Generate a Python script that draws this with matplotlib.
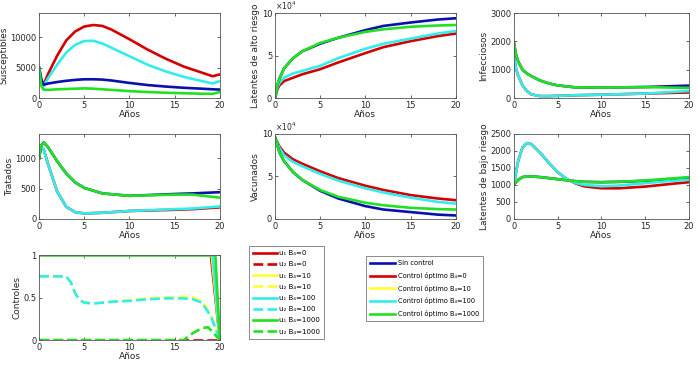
import matplotlib
matplotlib.use("Agg")
import matplotlib.pyplot as plt
from matplotlib.lines import Line2D

# colours (MATLAB-like)
C_BLUE = "#0a10b0"
C_RED = "#d40000"
C_YEL = "#ffff33"
C_CYA = "#33ecec"
C_GRN = "#22e022"

# --- Susceptibles ---
t_s = [0, 0.25, 0.5, 1, 2, 3, 4, 5, 6, 7, 8, 9, 10, 12, 14, 16, 18, 19.2, 20]
s_blue = [5000, 3000, 2200, 2400, 2650, 2850, 3000, 3100, 3100, 3050, 2900, 2700, 2500, 2150, 1900, 1700, 1550, 1450, 1400]
s_red = [5000, 3000, 2200, 4000, 7000, 9500, 11000, 11800, 12050, 11900, 11300, 10500, 9700, 8000, 6500, 5200, 4200, 3600, 3900]
s_cya = [5000, 3000, 2000, 3300, 5500, 7500, 8800, 9400, 9450, 9000, 8300, 7600, 6900, 5500, 4400, 3500, 2800, 2400, 2800]
s_grn = [5000, 2000, 1400, 1350, 1450, 1500, 1550, 1600, 1550, 1450, 1350, 1250, 1150, 1000, 880, 800, 720, 700, 1000]

# --- Latentes de alto riesgo (x1e4) ---
t_la = [0, 0.25, 0.5, 1, 2, 3, 5, 7, 10, 12, 15, 18, 20]
la_blue = [0, 1.5, 2.3, 3.5, 4.7, 5.5, 6.4, 7.1, 8.0, 8.5, 8.9, 9.25, 9.4]
la_grn = [0, 1.5, 2.3, 3.5, 4.7, 5.5, 6.5, 7.1, 7.8, 8.1, 8.4, 8.55, 8.6]
la_cya = [0, 1.2, 1.8, 2.4, 2.9, 3.2, 3.8, 4.7, 5.8, 6.4, 7.0, 7.6, 7.9]
la_red = [0, 1.0, 1.5, 2.0, 2.4, 2.8, 3.4, 4.2, 5.3, 6.0, 6.7, 7.3, 7.6]

# --- Infecciosos ---
t_i = [0, 0.25, 0.5, 1, 1.5, 2, 3, 4, 5, 7, 10, 15, 20]
i_blue = [2000, 1550, 1300, 1000, 870, 780, 620, 520, 450, 380, 370, 390, 440]
i_grn = [2000, 1550, 1300, 1000, 870, 780, 620, 520, 450, 380, 370, 390, 360]
i_cya = [1500, 1050, 800, 450, 250, 130, 70, 70, 80, 100, 120, 160, 250]
i_red = [1500, 1050, 800, 450, 250, 130, 70, 70, 80, 100, 120, 160, 200]

# --- Tratados ---
t_t = [0, 0.2, 0.5, 1, 2, 3, 4, 5, 7, 10, 15, 17, 20]
t_blue = [1000, 1200, 1260, 1180, 950, 750, 600, 510, 420, 380, 410, 420, 440]
t_grn = [1000, 1200, 1260, 1180, 950, 750, 600, 510, 420, 380, 400, 400, 350]
t_cya = [1000, 1200, 1150, 900, 450, 200, 110, 90, 100, 130, 160, 170, 205]
t_red = [1000, 1200, 1150, 900, 450, 200, 110, 90, 100, 130, 150, 160, 190]

# --- Vacunados (x1e4) ---
t_v = [0, 0.5, 1, 2, 3, 5, 7, 10, 12, 15, 18, 20]
v_red = [9.6, 8.5, 7.8, 7.0, 6.5, 5.6, 4.8, 3.9, 3.4, 2.8, 2.4, 2.2]
v_cya = [9.6, 8.3, 7.5, 6.7, 6.2, 5.3, 4.5, 3.6, 3.1, 2.5, 2.0, 1.8]
v_grn = [9.6, 7.8, 6.8, 5.5, 4.6, 3.4, 2.6, 1.9, 1.6, 1.3, 1.15, 1.1]
v_blue = [9.6, 7.8, 6.8, 5.5, 4.6, 3.3, 2.4, 1.5, 1.1, 0.8, 0.5, 0.4]

# --- Latentes de bajo riesgo ---
t_lb = [0, 0.5, 1, 1.5, 2, 3, 4, 5, 6, 7, 8, 10, 12, 15, 18, 20]
lb_red = [1000, 1700, 2100, 2230, 2200, 1950, 1650, 1380, 1180, 1050, 960, 900, 900, 950, 1030, 1080]
lb_cya = [1000, 1700, 2100, 2230, 2200, 1950, 1650, 1380, 1180, 1060, 1000, 960, 980, 1050, 1120, 1150]
lb_blue = [1000, 1150, 1230, 1250, 1250, 1230, 1200, 1170, 1140, 1110, 1090, 1080, 1090, 1120, 1170, 1180]
lb_grn = [1000, 1150, 1230, 1250, 1250, 1230, 1200, 1170, 1140, 1110, 1090, 1080, 1090, 1130, 1190, 1230]

# --- Controles ---
t_u1_red = [0, 19.0, 20]
t_u1_yel = [0, 19.1, 20]
t_u1_cya = [0, 19.2, 20]
t_u1_grn = [0, 19.5, 20]
u1_vals = [1, 1, 0]
t_u2_red = [0, 20]
u2_red = [0, 0]
t_u2 = [0, 3, 3.5, 4, 4.5, 5, 6, 8, 10, 12, 14, 16, 17, 18, 19, 20]
u2_yel = [0.75, 0.75, 0.68, 0.55, 0.47, 0.44, 0.43, 0.45, 0.47, 0.49, 0.5, 0.51, 0.5, 0.46, 0.3, 0]
u2_cya = [0.75, 0.75, 0.68, 0.55, 0.47, 0.44, 0.43, 0.45, 0.46, 0.48, 0.49, 0.49, 0.48, 0.44, 0.28, 0]
t_u2g = [0, 16, 17, 18, 18.7, 19.3, 20]
u2_grn = [0, 0, 0.08, 0.14, 0.15, 0.08, 0]

LW = 1.9
FS = 6
H = 0.232


def style(ax, ylabel, ylim, yticks, e4=False):
    ax.set_xlim(0, 20)
    ax.set_ylim(*ylim)
    ax.set_xticks([0, 5, 10, 15, 20])
    ax.set_yticks(yticks)
    ax.tick_params(direction="in", length=2, width=0.5, labelsize=FS, colors="#262626",
                   top=True, right=True, pad=2)
    for sp in ax.spines.values():
        sp.set_color("#555555")
        sp.set_linewidth(0.6)
    ax.set_xlabel("Años", fontsize=FS + 0.5, labelpad=0, color="#262626")
    ax.set_ylabel(ylabel, fontsize=FS + 0.5, labelpad=1, color="#262626")
    if e4:
        ax.text(0.0, 1.01, r"$\times10^4$", transform=ax.transAxes, fontsize=FS - 0.5,
                ha="left", va="bottom", color="#262626")


fig = plt.figure(figsize=(6.98, 3.66), dpi=100)
lefts = [0.056, 0.394, 0.736]
widths = [0.259, 0.259, 0.251]
bottoms = [0.732, 0.402, 0.071]

ax = fig.add_axes([lefts[0], bottoms[0], widths[0], H])
ax.plot(t_s, s_red, color=C_RED, lw=LW)
ax.plot(t_s, s_cya, color=C_CYA, lw=LW)
ax.plot(t_s, s_blue, color=C_BLUE, lw=LW)
ax.plot(t_s, s_grn, color=C_GRN, lw=LW)
style(ax, "Susceptibles", (0, 14000), [0, 5000, 10000])

ax = fig.add_axes([lefts[1], bottoms[0], widths[1], H])
ax.plot(t_la, la_red, color=C_RED, lw=LW)
ax.plot(t_la, la_cya, color=C_CYA, lw=LW)
ax.plot(t_la, la_blue, color=C_BLUE, lw=LW)
ax.plot(t_la, la_grn, color=C_GRN, lw=LW)
style(ax, "Latentes de alto riesgo", (0, 10), [0, 5, 10], e4=True)

ax = fig.add_axes([lefts[2], bottoms[0], widths[2], H])
ax.plot(t_i, i_red, color=C_RED, lw=LW)
ax.plot(t_i, i_cya, color=C_CYA, lw=LW)
ax.plot(t_i, i_blue, color=C_BLUE, lw=LW)
ax.plot(t_i, i_grn, color=C_GRN, lw=LW)
style(ax, "Infecciosos", (0, 3000), [0, 1000, 2000, 3000])

ax = fig.add_axes([lefts[0], bottoms[1], widths[0], H])
ax.plot(t_t, t_red, color=C_RED, lw=LW)
ax.plot(t_t, t_cya, color=C_CYA, lw=LW)
ax.plot(t_t, t_blue, color=C_BLUE, lw=LW)
ax.plot(t_t, t_grn, color=C_GRN, lw=LW)
style(ax, "Tratados", (0, 1400), [0, 500, 1000])

ax = fig.add_axes([lefts[1], bottoms[1], widths[1], H])
ax.plot(t_v, v_red, color=C_RED, lw=LW)
ax.plot(t_v, v_cya, color=C_CYA, lw=LW)
ax.plot(t_v, v_blue, color=C_BLUE, lw=LW)
ax.plot(t_v, v_grn, color=C_GRN, lw=LW)
style(ax, "Vacunados", (0, 10), [0, 5, 10], e4=True)

ax = fig.add_axes([lefts[2], bottoms[1], widths[2], H])
ax.plot(t_lb, lb_blue, color=C_BLUE, lw=LW)
ax.plot(t_lb, lb_red, color=C_RED, lw=LW)
ax.plot(t_lb, lb_cya, color=C_CYA, lw=LW)
ax.plot(t_lb, lb_grn, color=C_GRN, lw=LW)
style(ax, "Latentes de bajo riesgo", (0, 2500), [0, 500, 1000, 1500, 2000, 2500])

# controls panel
ax = fig.add_axes([lefts[0], bottoms[2], widths[0], H])
h = []
h += ax.plot(t_u1_red, u1_vals, color=C_RED, lw=LW, label="u₁ B₄=0")
h += ax.plot(t_u2_red, u2_red, color=C_RED, lw=LW, ls="--", label="u₂ B₄=0")
h += ax.plot(t_u1_yel, u1_vals, color=C_YEL, lw=LW, label="u₁ B₄=10")
h += ax.plot(t_u2, u2_yel, color=C_YEL, lw=LW, ls="--", label="u₂ B₄=10")
h += ax.plot(t_u1_cya, u1_vals, color=C_CYA, lw=LW, label="u₁ B₄=100")
h += ax.plot(t_u2, u2_cya, color=C_CYA, lw=LW, ls="--", label="u₂ B₄=100")
h += ax.plot(t_u1_grn, u1_vals, color=C_GRN, lw=LW, label="u₁ B₄=1000")
h += ax.plot(t_u2g, u2_grn, color=C_GRN, lw=LW, ls="--", label="u₂ B₄=1000")
style(ax, "Controles", (0, 1), [0, 0.5, 1])
ax.set_yticklabels(["0", "0.5", "1"])

leg1 = fig.legend(handles=h, loc="upper left", bbox_to_anchor=(0.357, 0.328),
                  fontsize=5, frameon=True, fancybox=False, edgecolor="#555555",
                  handlelength=3.4, handletextpad=0.3, labelspacing=0.75, borderpad=0.6,
                  borderaxespad=0)
leg1.get_frame().set_linewidth(0.6)

labels2 = ["Sin control", "Control óptimo B₄=0", "Control óptimo B₄=10",
           "Control óptimo B₄=100", "Control óptimo B₄=1000"]
colors2 = [C_BLUE, C_RED, C_YEL, C_CYA, C_GRN]
h2 = [Line2D([], [], color=c, lw=LW) for c in colors2]
leg2 = fig.legend(h2, labels2, loc="upper left", bbox_to_anchor=(0.524, 0.30),
                  fontsize=4.8, frameon=True, fancybox=False, edgecolor="#555555",
                  handlelength=3.8, handletextpad=0.4, labelspacing=0.85, borderpad=0.6,
                  borderaxespad=0)
leg2.get_frame().set_linewidth(0.6)

fig.savefig("out.png", dpi=100)
